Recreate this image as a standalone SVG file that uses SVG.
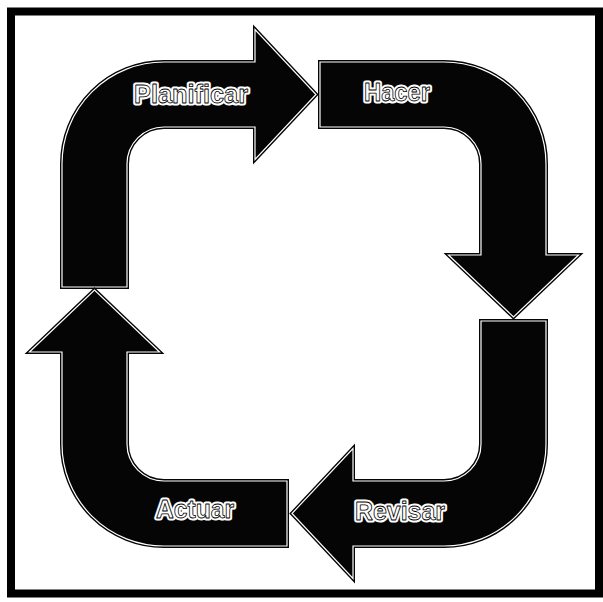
<svg xmlns="http://www.w3.org/2000/svg" width="603" height="602" viewBox="0 0 603 602">
<defs>
<style>
.body{fill:#050505;stroke:#050505;stroke-width:4;stroke-linejoin:miter}
.hl{fill:none;stroke:#ffffff;stroke-width:1.2;stroke-linejoin:miter}
.halo{font-family:"Liberation Sans",Arial,sans-serif;font-weight:bold;font-size:25px;fill:#fff;stroke:#fff;stroke-width:5;stroke-linejoin:round;text-anchor:middle}
.lbl{font-family:"Liberation Sans",Arial,sans-serif;font-weight:bold;font-size:25px;fill:#fff;stroke:#000;stroke-width:0.8;stroke-linejoin:round;text-anchor:middle}
</style>
<path id="pPlan" d="M62,287 L62,164 A102,102 0 0 1 164,62 L255,62 L255,29.5 L316,94.5 L255,159.5 L255,127 L164,127 A37,37 0 0 0 127,164 L127,287 Z"/>
<path id="pHac" d="M320,62 L444,62 A102,102 0 0 1 546,164 L546,255 L578.5,255 L513.5,317 L448.5,255 L481,255 L481,164 A37,37 0 0 0 444,127 L320,127 Z"/>
<path id="pRev" d="M546,321 L546,444 A102,102 0 0 1 444,546 L353,546 L353,578.5 L292,513.5 L353,448.5 L353,481 L444,481 A37,37 0 0 0 481,444 L481,321 Z"/>
<path id="pAct" d="M287,546 L164,546 A102,102 0 0 1 62,444 L62,352 L29.5,352 L94.5,290 L159.5,352 L127,352 L127,444 A37,37 0 0 0 164,481 L287,481 Z"/>
</defs>
<rect x="0" y="0" width="603" height="602" fill="#ffffff"/>
<rect x="11" y="11.5" width="588" height="582" fill="none" stroke="#000" stroke-width="8"/>
<g id="connectors">
</g>
<g id="planificar">
<use href="#pPlan" class="body"/>
<use href="#pPlan" class="hl"/>
<text x="191" y="103" class="halo" textLength="114" lengthAdjust="spacingAndGlyphs">Planificar</text>
<text x="191" y="103" class="lbl" textLength="114" lengthAdjust="spacingAndGlyphs">Planificar</text>
</g>
<g id="hacer">
<use href="#pHac" class="body"/>
<use href="#pHac" class="hl"/>
<text x="397" y="101" class="halo" textLength="66" lengthAdjust="spacingAndGlyphs">Hacer</text>
<text x="397" y="101" class="lbl" textLength="66" lengthAdjust="spacingAndGlyphs">Hacer</text>
</g>
<g id="revisar">
<use href="#pRev" class="body"/>
<use href="#pRev" class="hl"/>
<text x="400" y="520" class="halo" textLength="90" lengthAdjust="spacingAndGlyphs">Revisar</text>
<text x="400" y="520" class="lbl" textLength="90" lengthAdjust="spacingAndGlyphs">Revisar</text>
</g>
<g id="actuar">
<use href="#pAct" class="body"/>
<use href="#pAct" class="hl"/>
<text x="195" y="518" class="halo" textLength="78" lengthAdjust="spacingAndGlyphs">Actuar</text>
<text x="195" y="518" class="lbl" textLength="78" lengthAdjust="spacingAndGlyphs">Actuar</text>
</g>
</svg>
